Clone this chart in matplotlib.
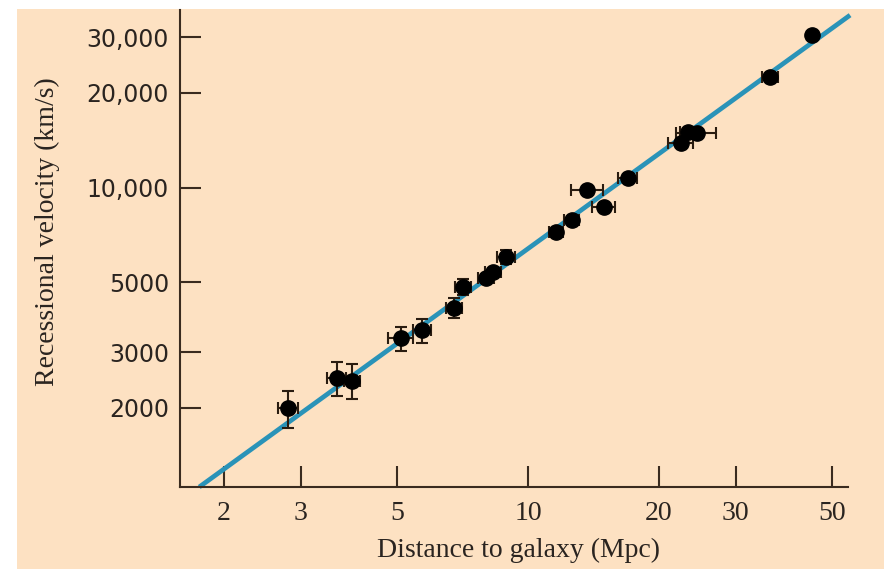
import matplotlib
matplotlib.use("Agg")
import matplotlib.pyplot as plt
from matplotlib.patches import Rectangle
from matplotlib.ticker import FixedLocator, NullLocator

# Galaxies: distance (Mpc), recessional velocity (km/s), error half-widths
distance = [2.81, 3.64, 3.94, 5.11, 5.71, 6.76, 7.09, 8.01, 8.31, 8.90,
            11.6, 12.6, 13.7, 14.95, 16.97, 22.5, 23.3, 24.5, 36.0, 45.0]
velocity = [2000, 2490, 2440, 3330, 3530, 4150, 4840, 5170, 5400, 6020,
            7230, 7890, 9820, 8680, 10720, 13840, 15000, 14890, 22410, 30460]
dist_err = [0.15, 0.18, 0.17, 0.34, 0.27, 0.29, 0.30, 0.34, 0.35, 0.43,
            0.44, 0.48, 1.14, 0.90, 0.83, 1.48, 1.00, 2.60, 1.56, 0.0]
vel_err = [270, 300, 310, 290, 310, 300, 280, 150, 150, 300,
           100, 100, 0, 0, 0, 0, 0, 0, 0, 0]

# best-fit Hubble line end points
fit_dist = [1.755, 55.0]
fit_vel = [1123, 35200]

x_ticks = [2, 3, 5, 10, 20, 30, 50]
x_labels = ["2", "3", "5", "10", "20", "30", "50"]
y_ticks = [2000, 3000, 5000, 10000, 20000, 30000]
y_labels = ["2000", "3000", "5000", "10,000", "20,000", "30,000"]

PEACH = "#fde1c2"
BROWN = "#3a2b1f"
TEAL = "#2a93b8"
TEXT = "#2a2420"

fig = plt.figure(figsize=(8.84, 5.69), dpi=100)
fig.patch.set_facecolor("white")
fig.patches.append(Rectangle((17 / 884, 0), 1, 560 / 569, transform=fig.transFigure,
                             facecolor=PEACH, edgecolor="none", zorder=-10))

ax = fig.add_axes([180 / 884, 82 / 569, 668 / 884, 477 / 569])
ax.set_facecolor("none")
ax.set_xscale("log")
ax.set_yscale("log")
ax.set_xlim(1.585, 54.4)
ax.set_ylim(1123, 36550)

ax.plot(fit_dist, fit_vel, color=TEAL, lw=3.4, clip_on=False, zorder=2,
        solid_capstyle="butt")
ax.errorbar(distance, velocity, xerr=dist_err, yerr=vel_err, fmt="o",
            ms=11, mfc="black", mec="black", ecolor="#2a1c10",
            elinewidth=1.5, capsize=4, capthick=1.5, zorder=3)

for s in ["top", "right"]:
    ax.spines[s].set_visible(False)
for s in ["left", "bottom"]:
    ax.spines[s].set_color(BROWN)
    ax.spines[s].set_linewidth(1.5)

ax.xaxis.set_major_locator(FixedLocator(x_ticks))
ax.xaxis.set_minor_locator(NullLocator())
ax.yaxis.set_major_locator(FixedLocator(y_ticks))
ax.yaxis.set_minor_locator(NullLocator())
ax.set_xticklabels(x_labels, family="Liberation Serif", fontsize=20)
ax.set_yticklabels(y_labels, family="DejaVu Sans", fontsize=17)
ax.tick_params(axis="both", direction="in", length=15, width=1.5,
               color=BROWN, labelcolor=TEXT)
ax.tick_params(axis="x", pad=10)
ax.tick_params(axis="y", pad=8)

ax.set_xlabel("Distance to galaxy (Mpc)", family="Liberation Serif",
              fontsize=20, color=TEXT, va="center")
ax.xaxis.set_label_coords(0.507, -0.132)
ax.set_ylabel("Recessional velocity (km/s)", family="Liberation Serif",
              fontsize=20, color=TEXT, va="center")
ax.yaxis.set_label_coords(-0.199, 0.535)

fig.savefig("out.png", dpi=100, facecolor=fig.get_facecolor())
